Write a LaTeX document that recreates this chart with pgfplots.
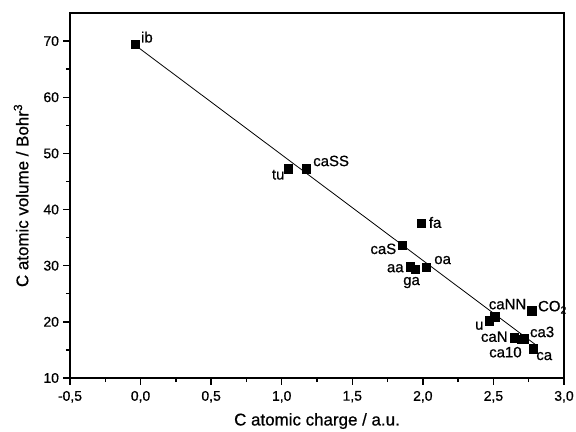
\documentclass[border=0pt]{standalone}
\usepackage{fontspec}
\setmainfont{Liberation Sans}[FakeBold=0.7]
\usepackage{pgfplots}
\pgfplotsset{compat=1.18}
\begin{document}
\begin{tikzpicture}
\useasboundingbox (0,0) rectangle (576bp,432bp);
\begin{axis}[
  at={(70bp,54bp)}, anchor=south west,
  scale only axis, width=494bp, height=365bp,
  xmin=-0.5, xmax=3.0, ymin=10, ymax=75,
  xtick={-0.5,0,...,3.0}, ytick={10,20,...,70},
  minor x tick num=1, minor y tick num=1,
  tick align=outside, xtick pos=left, ytick pos=left,
  major tick length=6.5bp, minor tick length=4bp,
  /pgf/number format/assume math mode=true,
  x tick label style={/pgf/number format/fixed, /pgf/number format/fixed zerofill, /pgf/number format/precision=1, /pgf/number format/use comma, yshift=-3bp},
  y tick label style={xshift=-1bp},
  tick label style={font=\fontsize{14}{16}\selectfont},
  xlabel={C atomic charge / a.u.},
  ylabel={C atomic volume / Bohr\textsuperscript{3}},
  label style={font=\fontsize{17}{20}\selectfont},
  x label style={at={(axis description cs:0.5,-0.118)}, anchor=center},
  y label style={at={(axis description cs:-0.099,0.5)}, anchor=center},
  axis line style={line width=1.4bp},
  every tick/.style={black, line width=1.4bp},
  clip=false,
]
\addplot[black, line width=0.8bp] coordinates {(-0.04,69.3) (2.80,15.9)};
\addplot[only marks, mark=square*, mark size=4.2bp, black] coordinates {
(-0.038,69.4)
(1.044,47.3)
(1.175,47.3)
(1.988,37.6)
(1.855,33.6)
(1.91,29.8)
(1.945,29.4)
(2.023,29.7)
(2.51,20.9)
(2.47,20.2)
(2.77,22.0)
(2.646,17.15)
(2.72,17.0)
(2.70,16.95)
(2.78,15.2)
};
\begin{scope}[every node/.style={font=\fontsize{15}{17}\selectfont, inner sep=0pt}]
\node at (axis cs:0.045,70.7) {ib};
\node at (axis cs:0.975,46.2) {tu};
\node at (axis cs:1.35,48.65) {caSS};
\node at (axis cs:2.087,37.7) {fa};
\node at (axis cs:1.72,33.0) {caS};
\node at (axis cs:1.805,29.55) {aa};
\node at (axis cs:1.92,27.0) {ga};
\node at (axis cs:2.14,31.0) {oa};
\node at (axis cs:2.60,23.15) {caNN};
\node[anchor=west] at (axis cs:2.815,22.6) {CO\textsubscript{2}};
\node at (axis cs:2.40,19.3) {u};
\node at (axis cs:2.506,17.35) {caN};
\node at (axis cs:2.845,18.2) {ca3};
\node at (axis cs:2.585,14.6) {ca10};
\node at (axis cs:2.86,13.9) {ca};
\end{scope}
\end{axis}
\end{tikzpicture}
\end{document}
